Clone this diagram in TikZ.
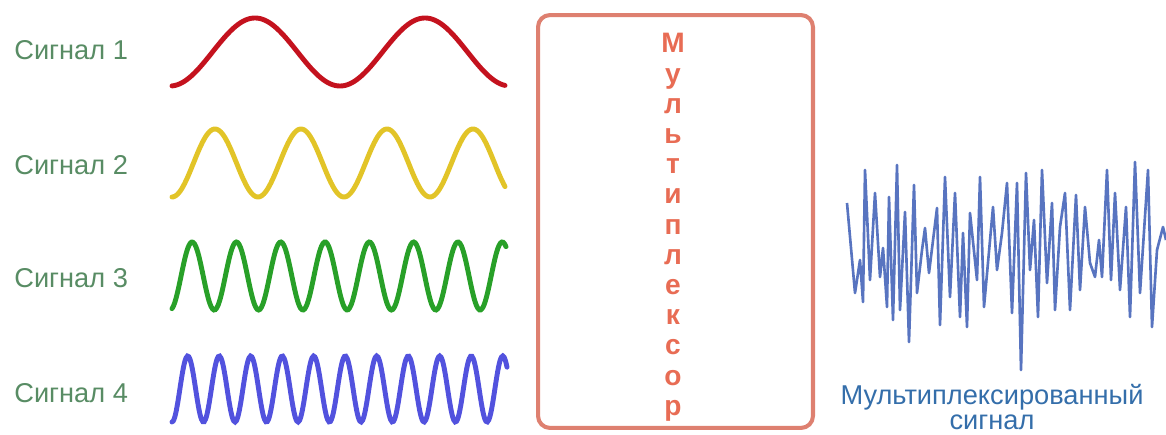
\documentclass[tikz,border=0pt]{standalone}
\usepackage{fontspec}
\setmainfont{Liberation Sans}
\usepackage{tikz}

\definecolor{labgreen}{RGB}{88,140,100}
\definecolor{wavered}{RGB}{196,18,30}
\definecolor{waveyellow}{RGB}{226,196,40}
\definecolor{wavegreen}{RGB}{40,160,40}
\definecolor{waveblue}{RGB}{82,82,222}
\definecolor{muxframe}{RGB}{222,128,112}
\definecolor{muxtext}{RGB}{232,108,84}
\definecolor{noiseblue}{RGB}{88,116,192}
\definecolor{outblue}{RGB}{52,110,170}

\begin{document}
\begin{tikzpicture}[x=0.02cm,y=-0.02cm,
  siglabel/.style={anchor=west,inner sep=0pt,text=labgreen,font=\fontsize{15.5}{18}\selectfont},
  wave/.style={line width=2.8pt,line cap=round,smooth,samples=240},
  muxletter/.style={anchor=base,inner sep=0pt,text=muxtext,font=\fontsize{16}{18}\selectfont\bfseries}]
  \useasboundingbox (0,0) rectangle (1166,435);
  % input labels
  \foreach \k/\y in {1/50,2/165,3/278,4/393}
    \node[siglabel] (s\k) at (14,\y) {Сигнал \k};
  % input waves
  \draw[wave,wavered]    plot[domain=172:505] (\x,{52+34*cos((\x-170)*2.11765)});
  \draw[wave,waveyellow] plot[domain=172:505] (\x,{163+34*cos((\x-172)*4.18605)});
  \draw[wave,wavegreen]  plot[domain=172:506] (\x,{276+34*cos((\x-170)*8.12641)});
  \draw[wave,waveblue]   plot[domain=172:507] (\x,{389+33*cos((\x-172)*11.42857)});
  % multiplexer
  \node[draw=muxframe,line width=2.3pt,rounded corners=0.24cm,
        minimum width=5.5cm,minimum height=8.26cm] (mux) at (675.5,221.5) {};
  \foreach \ch [count=\i] in {М,у,л,ь,т,и,п,л,е,к,с,о,р}
    \node[muxletter] (m\i) at (673,{53+30.2*(\i-1)}) {\ch};
  % output
  \draw[noiseblue,line width=1.5pt,line join=round] plot coordinates {
    (847,203) (855,293) (860,260) (863,302) (865,170) (870,280) (875,193)
    (880,277) (883,248) (887,307) (889,197) (893,320) (897,165) (900,310)
    (905,212) (909,342) (914,185) (917,293) (922,250) (925,228) (929,273)
    (937,208) (940,325) (945,177) (950,297) (955,193) (960,317) (963,233)
    (967,327) (970,213) (977,280) (980,177) (984,307) (993,207) (997,270)
    (1002,233) (1007,183) (1012,313) (1017,183) (1021,370) (1026,173)
    (1030,270) (1034,220) (1038,317) (1042,170) (1047,283) (1052,203)
    (1055,310) (1060,227) (1065,193) (1070,310) (1076,195) (1080,290)
    (1085,207) (1090,263) (1095,277) (1099,240) (1102,277) (1107,170)
    (1111,280) (1115,193) (1120,290) (1126,207) (1130,317) (1135,162)
    (1140,293) (1148,170) (1152,327) (1157,250) (1163,227) (1166,240)};
  \node[align=center,inner sep=0pt,text=outblue,font=\fontsize{15.5}{14.2}\selectfont]
    (out) at (992,407) {Мультиплексированный\\сигнал};
\end{tikzpicture}
\end{document}
